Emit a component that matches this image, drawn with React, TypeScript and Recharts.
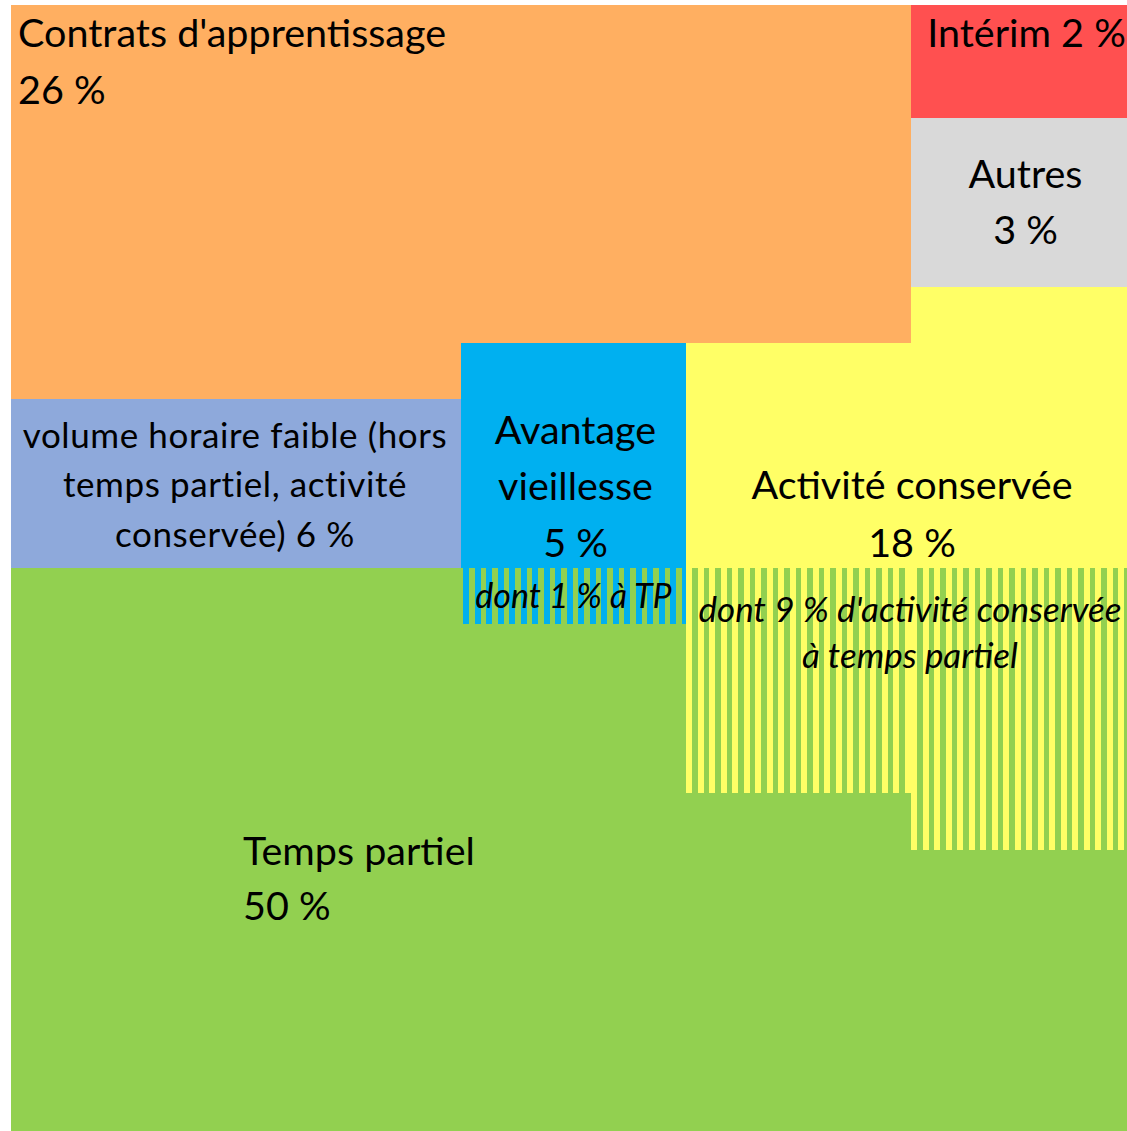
import React from "react";
import { BarChart, Bar, XAxis, YAxis, LabelList } from "recharts";

// each column of the square is 20 % wide, values are % of the total
const columns = ["A1", "A2", "B", "C", "D"];
const interim = [0, 0, 0, 0, 2];
const contrats = [7, 7, 6, 6, 0];
const autres = [0, 0, 0, 0, 3];
const volumeFaible = [3, 3, 0, 0, 0];
const avantage = [0, 0, 4, 0, 0];
const avantageTP = [0, 0, 1, 0, 0];
const activite = [0, 0, 0, 4, 5];
const activiteTP = [0, 0, 0, 4, 5];
const tempsPartiel = [10, 10, 9, 6, 5];

const data = columns.map((col, i) => ({
  col,
  interim: interim[i],
  contrats: contrats[i],
  autres: autres[i],
  volumeFaible: volumeFaible[i],
  avantage: avantage[i],
  avantageTP: avantageTP[i],
  activite: activite[i],
  activiteTP: activiteTP[i],
  tempsPartiel: tempsPartiel[i],
}));

const FONT = "Lato, 'Noto Sans', sans-serif";
const GREEN = "#92D050";

const boxOf = (p: any) => {
  const vb = p.viewBox || {};
  const x = Number(p.x ?? vb.x);
  const y = Number(p.y ?? vb.y);
  const w = Number(p.width ?? vb.width);
  const h = Number(p.height ?? vb.height);
  return {
    x: Math.min(x, x + w),
    y: Math.min(y, y + h),
    width: Math.abs(w),
    height: Math.abs(h),
  };
};

// striped rectangle (part of a category that is also "temps partiel")
const striped = (color: string, offset: number) => (props: any) => {
  const { x, y, width, height } = boxOf(props);
  if (!width || !height) return <g />;
  const bars = [];
  for (let k = 0; x + offset + k * 11.5 < x + width; k++) {
    const sx = Math.round(x + offset + k * 11.5);
    bars.push(
      <rect
        key={k}
        x={sx}
        y={y}
        width={Math.min(6, x + width - sx)}
        height={height}
        fill={color}
        shapeRendering="crispEdges"
      />
    );
  }
  return (
    <g>
      <rect x={x} y={y} width={width} height={height} fill={GREEN} shapeRendering="crispEdges" />
      {bars}
    </g>
  );
};

type Spec = {
  col: string; // column the label is attached to
  span: number; // number of columns it is centred over
  lines: string[];
  align: "start" | "middle";
  dx: number;
  from: "top" | "bottom";
  baselines: number[];
  size: number;
  italic?: boolean;
  spacing?: number;
};

const blockLabel = (series: number[], spec: Spec) => {
  const orig = columns.indexOf(spec.col);
  const filtered = series.slice(0, orig).filter((v) => v !== 0).length;
  return (props: any) => {
    const box = boxOf(props);
    const hit = props.payload
      ? props.payload.col === spec.col
      : (props.index === orig || props.index === filtered) && box.height > 0;
    if (!hit) return null;
    const { x, y, width, height } = box;
    const tx = spec.align === "start" ? x + spec.dx : x + (width * spec.span) / 2 + spec.dx;
    return (
      <g>
        {spec.lines.map((line, i) => (
          <text
            key={i}
            x={tx}
            y={spec.from === "top" ? y + spec.baselines[i] : y + height + spec.baselines[i]}
            textAnchor={spec.align}
            fontFamily={FONT}
            fontSize={spec.size}
            fontStyle={spec.italic ? "italic" : "normal"}
            letterSpacing={spec.spacing ?? 0}
            fill="#000"
          >
            {line}
          </text>
        ))}
      </g>
    );
  };
};

export default function App() {
  return (
    <div
      style={{
        position: "absolute",
        left: 0,
        top: 0,
        width: 1127,
        height: 1131,
        overflow: "hidden",
        background: "#fff",
      }}
    >
      <style>{`.recharts-rectangle{shape-rendering:crispEdges}`}</style>
      <BarChart
        width={1136}
        height={1131}
        data={data}
        margin={{ top: 5, right: 0, bottom: 0, left: 11 }}
        barCategoryGap={0}
        barGap={0}
      >
        <XAxis dataKey="col" hide />
        <YAxis type="number" domain={[0, 20]} reversed hide allowDataOverflow />
        <Bar dataKey="interim" stackId="s" fill="#FF5050" isAnimationActive={false}>
          <LabelList
            dataKey="interim"
            content={blockLabel(interim, {
              col: "D",
              span: 1,
              lines: ["Intérim 2 %"],
              align: "middle",
              dx: 3,
              from: "top",
              baselines: [42],
              size: 39.5,
            })}
          />
        </Bar>
        <Bar dataKey="contrats" stackId="s" fill="#FFAF61" isAnimationActive={false}>
          <LabelList
            dataKey="contrats"
            content={blockLabel(contrats, {
              col: "A1",
              span: 1,
              lines: ["Contrats d'apprentissage", "26 %"],
              align: "start",
              dx: 7,
              from: "top",
              baselines: [42, 99],
              size: 39.5,
            })}
          />
        </Bar>
        <Bar dataKey="autres" stackId="s" fill="#D9D9D9" isAnimationActive={false}>
          <LabelList
            dataKey="autres"
            content={blockLabel(autres, {
              col: "D",
              span: 1,
              lines: ["Autres", "3 %"],
              align: "middle",
              dx: 2,
              from: "bottom",
              baselines: [-99, -43],
              size: 39.5,
            })}
          />
        </Bar>
        <Bar dataKey="volumeFaible" stackId="s" fill="#8EA9DB" isAnimationActive={false}>
          <LabelList
            dataKey="volumeFaible"
            content={blockLabel(volumeFaible, {
              col: "A1",
              span: 2,
              lines: ["volume horaire faible (hors", "temps partiel, activité", "conservée) 6 %"],
              align: "middle",
              dx: -1,
              from: "bottom",
              baselines: [-120, -71, -21],
              size: 35,
              spacing: 0.6,
            })}
          />
        </Bar>
        <Bar dataKey="avantage" stackId="s" fill="#00B0F0" isAnimationActive={false}>
          <LabelList
            dataKey="avantage"
            content={blockLabel(avantage, {
              col: "B",
              span: 1,
              lines: ["Avantage", "vieillesse", "5 %"],
              align: "middle",
              dx: 2,
              from: "bottom",
              baselines: [-124, -68, -11],
              size: 39.5,
            })}
          />
        </Bar>
        <Bar
          dataKey="avantageTP"
          stackId="s"
          fill="#00B0F0"
          shape={striped("#00B0F0", 2)}
          isAnimationActive={false}
        >
          <LabelList
            dataKey="avantageTP"
            content={blockLabel(avantageTP, {
              col: "B",
              span: 1,
              lines: ["dont 1 % à TP"],
              align: "middle",
              dx: 0,
              from: "bottom",
              baselines: [-16],
              size: 34,
              italic: true,
            })}
          />
        </Bar>
        <Bar dataKey="activite" stackId="s" fill="#FFFF66" isAnimationActive={false}>
          <LabelList
            dataKey="activite"
            content={blockLabel(activite, {
              col: "C",
              span: 2,
              lines: ["Activité conservée", "18 %"],
              align: "middle",
              dx: 1,
              from: "bottom",
              baselines: [-69, -11],
              size: 39.5,
            })}
          />
        </Bar>
        <Bar
          dataKey="activiteTP"
          stackId="s"
          fill="#FFFF66"
          shape={striped("#FFFF66", 0)}
          isAnimationActive={false}
        >
          <LabelList
            dataKey="activiteTP"
            content={blockLabel(activiteTP, {
              col: "C",
              span: 2,
              lines: ["dont 9 % d'activité conservée", "à temps partiel"],
              align: "middle",
              dx: -1,
              from: "top",
              baselines: [54, 100],
              size: 35,
              italic: true,
            })}
          />
        </Bar>
        <Bar dataKey="tempsPartiel" stackId="s" fill={GREEN} isAnimationActive={false}>
          <LabelList
            dataKey="tempsPartiel"
            content={blockLabel(tempsPartiel, {
              col: "A1",
              span: 1,
              lines: ["Temps partiel", "50 %"],
              align: "start",
              dx: 232,
              from: "top",
              baselines: [297, 352],
              size: 39.5,
            })}
          />
        </Bar>
      </BarChart>
    </div>
  );
}
